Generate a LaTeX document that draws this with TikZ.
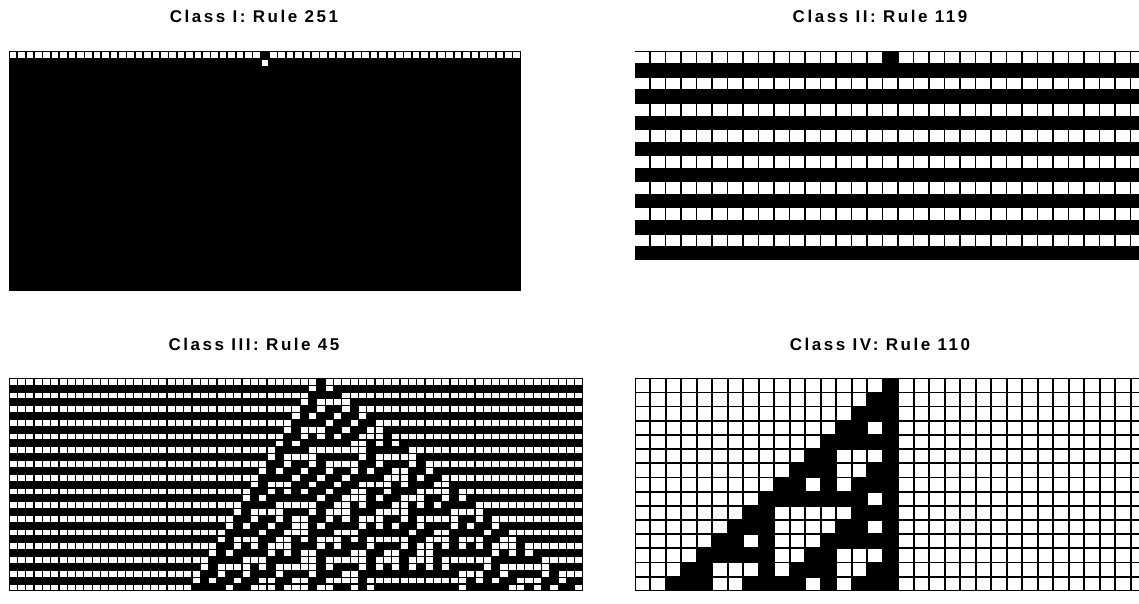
\documentclass[tikz,border=0pt]{standalone}
\usepackage{fontspec}
\setmainfont{Liberation Sans}
\newfontfamily\titlefont[LetterSpace=15]{Liberation Sans}
\makeatletter
\newcount\ca@t \newcount\ca@c \newcount\ca@k \newcount\ca@x
\def\ca@get#1#2#3{%
  \ifnum\numexpr#3\relax<0 \csname ca:#1:bg:#2\endcsname
  \else\ifnum\numexpr#3\relax<\numexpr\csname ca:#1:n\endcsname\relax \csname ca:#1:#2:\the\numexpr#3\relax\endcsname
  \else \csname ca:#1:bg:#2\endcsname\fi\fi}
\newcommand\caRun[5]{% name, rule, ncols, nrows, start col
  \expandafter\edef\csname ca:#1:n\endcsname{\number#3}%
  \ca@k=0 \ca@x=#2\relax
  \@whilenum\ca@k<8\do{%
    \expandafter\edef\csname ca:#1:rb:\the\ca@k\endcsname{\ifodd\ca@x 1\else 0\fi}%
    \divide\ca@x by 2 \advance\ca@k by 1 }%
  \expandafter\def\csname ca:#1:bg:0\endcsname{0}%
  \ca@c=0
  \@whilenum\ca@c<#3\do{%
    \expandafter\edef\csname ca:#1:0:\the\ca@c\endcsname{\ifnum\ca@c=#5 1\else 0\fi}%
    \advance\ca@c by 1 }%
  \ca@t=1
  \@whilenum\ca@t<#4\do{%
    \edef\ca@p{\the\numexpr\ca@t-1\relax}%
    \expandafter\edef\csname ca:#1:bg:\the\ca@t\endcsname{\csname ca:#1:rb:\the\numexpr7*\csname ca:#1:bg:\ca@p\endcsname\relax\endcsname}%
    \ca@c=0
    \@whilenum\ca@c<#3\do{%
      \edef\ca@i{\the\numexpr 4*\ca@get{#1}{\ca@p}{\ca@c-1}+2*\ca@get{#1}{\ca@p}{\ca@c}+\ca@get{#1}{\ca@p}{\ca@c+1}\relax}%
      \expandafter\edef\csname ca:#1:\the\ca@t:\the\ca@c\endcsname{\csname ca:#1:rb:\ca@i\endcsname}%
      \advance\ca@c by 1 }%
    \advance\ca@t by 1 }%
}
% name, ncols, nrows, x0, y0, w, h, mesh
\newcommand\caDraw[8]{%
  \fill[cellblack] (#4,#5) rectangle ++({#2*#6},{#3*#7});
  \edef\ca@lc{\the\numexpr#2-1\relax}%
  \edef\ca@lr{\the\numexpr#3-1\relax}%
  \foreach \ti in {0,...,\ca@lr}{%
    \foreach \ci in {0,...,\ca@lc}{%
      \expandafter\ifnum\csname ca:#1:\ti:\ci\endcsname=0
        \fill[cellwhite] ({#4+\ci*#6+#8/2},{#5+\ti*#7+#8/2}) rectangle ++({#6-#8},{#7-#8});
      \fi
    }%
  }%
}
\makeatother
\colorlet{cellblack}{black}
\colorlet{cellwhite}{white}
\tikzset{paneltitle/.style={font=\titlefont\bfseries\fontsize{17}{19}\selectfont, inner sep=0pt, anchor=base}}
\begin{document}
\begin{tikzpicture}[x=1pt,y=-1pt]
\useasboundingbox (0,0) rectangle (1139,604);
\fill[white] (0,0) rectangle (1139,604);
\clip (0,0) rectangle (1139,604);
\caRun{one}{251}{61}{30}{30}
\caRun{two}{119}{33}{16}{16}
\caRun{three}{45}{69}{31}{37}
\caRun{four}{110}{33}{15}{16}
\caDraw{one}{61}{30}{9}{51}{8.393}{8}{1.8}
\caDraw{two}{33}{16}{634.7}{51}{15.5}{13.06}{1.5}
\caDraw{three}{69}{31}{9}{378.3}{8.32}{6.855}{1.2}
\caDraw{four}{33}{15}{634.7}{378.3}{15.5}{14.17}{1.7}
\node[paneltitle] (t1) at (254,22.7) {Class I: Rule 251};
\node[paneltitle] (t2) at (880,22.7) {Class II: Rule 119};
\node[paneltitle] (t3) at (254,350) {Class III: Rule 45};
\node[paneltitle] (t4) at (880,350) {Class IV: Rule 110};
\end{tikzpicture}
\end{document}
